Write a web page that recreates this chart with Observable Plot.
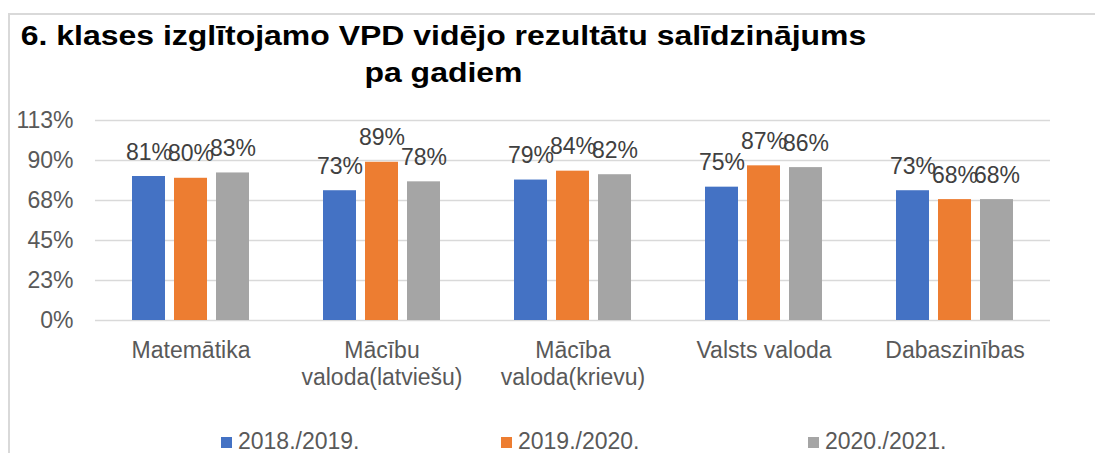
<!DOCTYPE html>
<html>
<head>
<meta charset="utf-8">
<script src="https://cdn.jsdelivr.net/npm/d3@7"></script>
<script src="https://cdn.jsdelivr.net/npm/@observablehq/plot@0.6"></script>
<style>
  html, body { margin: 0; padding: 0; background: #fff; }
  #wrap { position: relative; width: 1095px; height: 453px; overflow: hidden; background: #fff; font-family: "Liberation Sans", Arial, sans-serif; }
  #frame { position: absolute; left: 8px; top: 13px; right: -4px; bottom: -4px; border-top: 2px solid #d9d9d9; border-left: 2px solid #d9d9d9; }
  #title { position: absolute; left: 0; top: 18px; width: 887px; text-align: center; font-weight: bold; font-size: 27px; line-height: 37px; color: #000; transform: scaleX(1.184); transform-origin: 443.5px 0; }
  #chart { position: absolute; left: 0; top: 100px; }
  .leg { position: absolute; top: 427px; font-size: 23px; line-height: 28px; color: #595959; white-space: nowrap; }
  .leg i { display: inline-block; width: 11px; height: 11px; margin-right: 6px; vertical-align: 1px; }
</style>
</head>
<body>
<div id="wrap">
  <div id="frame"></div>
  <div id="title"></div>
  <div id="chart"></div>
  <div id="legend"></div>
</div>
<script>
const titleLines = ["6. klases izglītojamo VPD vidējo rezultātu salīdzinājums", "pa gadiem"];
const categories = ["Matemātika", "Mācību\nvaloda(latviešu)", "Mācība\nvaloda(krievu)", "Valsts valoda", "Dabaszinības"];
const years = ["2018./2019.", "2019./2020.", "2020./2021."];
const v2018 = [81, 73, 79, 75, 73];
const v2019 = [80, 89, 84, 87, 68];
const v2020 = [83, 78, 82, 86, 68];
const yTicks = [0, 22.5, 45, 67.5, 90, 112.5];
const colors = ["#4472C4", "#ED7D31", "#A5A5A5"];

document.getElementById("title").innerHTML = titleLines.join("<br>");

const series = [v2018, v2019, v2020];
const offsets = [-42, 0, 42];
const marks = [Plot.ruleY(yTicks, {stroke: "#d9d9d9", strokeWidth: 1.5})];
series.forEach((vals, i) => {
  const rows = categories.map((c, j) => ({cat: c, value: vals[j], year: years[i]}));
  marks.push(Plot.barY(rows, {x: "cat", y: "value", fill: colors[i], dx: offsets[i], insetLeft: 79, insetRight: 79}));
  marks.push(Plot.text(rows, {x: "cat", y: "value", text: d => d.value + "%", dx: offsets[i], dy: -17, lineAnchor: "bottom", fontSize: 23, fill: "#404040"}));
});
marks.push(Plot.text(categories, {x: d => d, text: d => d, frameAnchor: "bottom", lineAnchor: "top", dy: 18, lineHeight: 1.18, fontSize: 23, fill: "#595959"}));
marks.push(Plot.axisY({ticks: yTicks, tickFormat: d => Math.round(d) + "%", tickSize: 0, tickPadding: 22, fontSize: 23, fill: "#595959", label: null}));

const chart = Plot.plot({
  width: 1095,
  height: 300,
  marginTop: 20,
  marginBottom: 80,
  marginLeft: 95,
  marginRight: 45,
  style: {fontFamily: '"Liberation Sans", Arial, sans-serif', background: "transparent", overflow: "visible"},
  x: {domain: categories, padding: 0, axis: null},
  y: {domain: [0, 112.5], axis: null},
  marks
});
document.getElementById("chart").appendChild(chart);

const legendLeft = [221, 501, 808];
const legend = document.getElementById("legend");
years.forEach((y, i) => {
  const s = document.createElement("span");
  s.className = "leg";
  s.style.left = legendLeft[i] + "px";
  s.innerHTML = `<i style="background:${colors[i]}"></i>${y}`;
  legend.appendChild(s);
});
</script>
</body>
</html>
